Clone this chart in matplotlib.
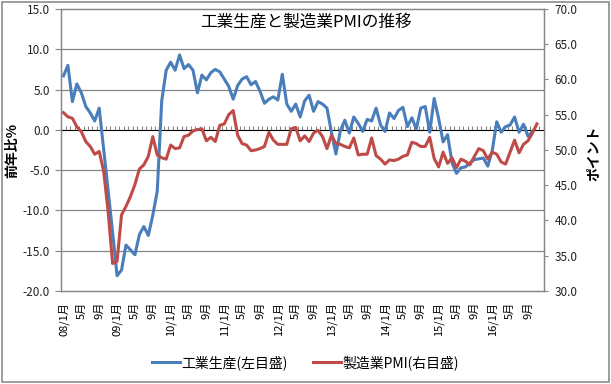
import matplotlib
matplotlib.use("Agg")
import matplotlib.pyplot as plt
from matplotlib.patches import Rectangle

plt.rcParams["font.family"] = ["Noto Sans CJK JP", "DejaVu Sans"]

# monthly, 2008/1 .. 2016/12 (108 categories)
years = list(range(2008, 2017))
months = list(range(1, 13))

# industrial production, YoY % (left axis), 2008/1 .. 2016/10
ip_yoy = [
    6.7, 8.0, 3.5, 5.7, 4.6, 2.9, 2.1, 1.1, 2.7, -2.4, -7.5, -12.7,
    -18.1, -17.4, -14.3, -14.9, -15.5, -13.0, -12.0, -13.1, -10.6, -7.6, 3.6, 7.4,
    8.4, 7.4, 9.3, 7.6, 8.1, 7.4, 4.6, 6.8, 6.2, 7.1, 7.5, 7.2,
    6.3, 5.4, 3.8, 5.5, 6.3, 6.6, 5.6, 6.0, 4.8, 3.3, 3.8, 4.1,
    3.7, 6.9, 3.2, 2.3, 3.2, 1.6, 3.6, 4.3, 2.3, 3.5, 3.2, 2.7,
    -0.3, -3.0, -0.1, 1.2, -0.4, 1.6, 0.8, -0.2, 1.3, 1.1, 2.7, 0.6,
    -0.2, 2.1, 1.4, 2.4, 2.8, 0.4, 1.5, 0.1, 2.7, 2.9, -0.3, 3.9,
    1.4, -1.5, -0.6, -4.1, -5.4, -4.7, -4.6, -4.1, -3.7, -3.6, -3.5, -4.5,
    -2.6, 1.0, -0.3, 0.4, 0.6, 1.6, -0.3, 0.7, -0.8, -0.2,
]

# manufacturing PMI (right axis), 2008/1 .. 2016/11
pmi = [
    55.3, 54.7, 54.5, 53.3, 52.6, 51.2, 50.5, 49.4, 49.8, 47.0, 41.3, 33.9,
    34.2, 40.8, 42.0, 43.4, 45.1, 47.3, 47.9, 49.1, 51.9, 49.3, 48.9, 48.7,
    50.7, 50.2, 50.3, 51.9, 52.1, 52.7, 52.9, 53.0, 51.3, 51.8, 51.2, 53.5,
    53.7, 55.0, 55.6, 52.1, 50.9, 50.7, 49.9, 50.0, 50.2, 50.5, 52.5, 51.4,
    50.8, 50.8, 50.8, 53.0, 53.2, 51.3, 52.0, 51.2, 52.4, 52.8, 51.9, 50.2,
    52.1, 50.9, 50.8, 50.5, 50.3, 51.7, 49.3, 49.4, 49.4, 51.7, 49.2, 48.7,
    48.0, 48.6, 48.5, 48.7, 49.1, 49.3, 51.1, 50.9, 50.5, 50.5, 51.8, 48.8,
    47.6, 49.7, 48.1, 48.9, 47.5, 48.7, 48.4, 47.9, 49.1, 50.2, 49.9, 48.7,
    49.7, 49.4, 48.3, 48.0, 49.7, 51.4, 49.6, 50.8, 51.3, 52.4, 53.7,
]

categories = [(y, m) for y in years for m in months]
tick_idx = list(range(0, len(categories), 4))
tick_labels = [f"{y % 100:02d}/{m}月" if m == 1 else f"{m}月"
               for y, m in (categories[i] for i in tick_idx)]

BLUE = "#4A7EBB"
RED = "#BE4B48"
GRID = "#868686"

fig = plt.figure(figsize=(6.11, 3.84), dpi=100)
ax = fig.add_axes([0.1002, 0.2422, 0.7895, 0.7344])
ax2 = ax.twinx()

l1, = ax.plot(range(len(ip_yoy)), ip_yoy, color=BLUE, lw=2.2,
              solid_joinstyle="round", label="工業生産(左目盛)")
l2, = ax2.plot(range(len(pmi)), pmi, color=RED, lw=2.2,
               solid_joinstyle="round", label="製造業PMI(右目盛)")

ax.set_xlim(-0.5, len(categories) - 0.5)
ax.set_ylim(-20, 15)
ax.set_yticks(range(-20, 16, 5))
ax.set_yticklabels([f"{v:.1f}" for v in range(-20, 16, 5)])
ax2.set_ylim(30, 70)
ax2.set_yticks(range(30, 71, 5))
ax2.set_yticklabels([f"{v:.1f}" for v in range(30, 71, 5)])

for v in range(-15, 15, 5):
    if v != 0:
        ax.axhline(v, color=GRID, lw=0.9, zorder=0)

ax.set_xticks(tick_idx)
ax.set_xticklabels(tick_labels, rotation=90, va="top", fontsize=8)
ax.tick_params(axis="x", length=0, pad=8)
ax.tick_params(axis="y", direction="out", length=4, color=GRID,
               labelsize=8.5, labelcolor="#222222", pad=4)
ax2.tick_params(axis="y", direction="out", length=3, color=GRID,
                labelsize=8.5, labelcolor="#222222", pad=5)

for a in (ax, ax2):
    for sp in a.spines.values():
        sp.set_color(GRID)
        sp.set_linewidth(0.9)

# category axis crossing at 0 on the left scale, with a tick per month
zero_ax = ax.secondary_xaxis(20 / 35)
zero_ax.set_xticks([i - 0.5 for i in range(len(categories) + 1)])
zero_ax.set_xticklabels([])
zero_ax.tick_params(direction="out", length=3, color=GRID, width=0.8)
zero_ax.spines["bottom"].set_color(GRID)
zero_ax.spines["bottom"].set_linewidth(0.9)

ax.set_ylabel("前年比%", fontsize=10, fontweight="bold")
ax.yaxis.set_label_coords(-0.087, 0.5)
ax2.set_ylabel("ポイント", fontsize=10, fontweight="bold", rotation=90)
ax2.yaxis.set_label_coords(1.090, 0.49)

fig.text(0.5, 0.942, "工業生産と製造業PMIの推移", ha="center", va="center",
         fontsize=12)

fig.legend(handles=[l1, l2], loc="center", bbox_to_anchor=(0.5, 0.055),
           ncol=2, frameon=False, fontsize=10, handlelength=2.0,
           handletextpad=0.1, columnspacing=1.8)

fig.patches.append(Rectangle((0.003, 0.005), 0.993, 0.99,
                             transform=fig.transFigure, fill=False,
                             edgecolor="#8c8c8c", lw=1.2))

fig.savefig("out.png", dpi=100)
